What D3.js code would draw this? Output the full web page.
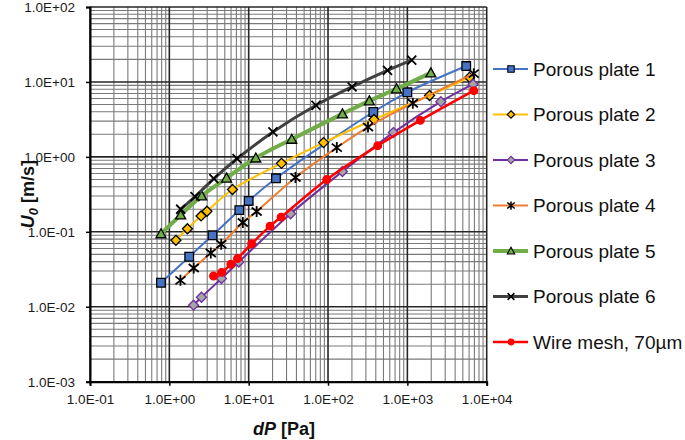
<!DOCTYPE html>
<html>
<head>
<meta charset="utf-8">
<script src="https://cdn.jsdelivr.net/npm/d3@7"></script>
<style>
  body { margin: 0; background: #fff; }
  svg { display: block; font-family: 'Liberation Sans', Arial, sans-serif; }
</style>
</head>
<body>
<script>
'use strict';

// series names, in drawing order
var seriesNames = ['Porous plate 1', 'Porous plate 2', 'Porous plate 3', 'Porous plate 4',
  'Porous plate 5', 'Porous plate 6', 'Wire mesh, 70\u00b5m'];

// dP [Pa] and U0 [m/s]
var plate1Dp = [0.785, 1.78, 3.50, 7.62, 10.0, 22.1, 372, 1000, 5520];
var plate1U = [0.0209, 0.0465, 0.0898, 0.195, 0.258, 0.518, 3.97, 7.27, 16.3];

var plate2Dp = [1.21, 1.69, 2.51, 2.98, 6.25, 25.9, 87.8, 380, 1905, 6080];
var plate2U = [0.077, 0.110, 0.163, 0.188, 0.367, 0.820, 1.55, 3.15, 6.59, 11.5];

var plate3Dp = [2.02, 2.54, 4.54, 7.49, 33.7, 152, 666, 2640, 6730];
var plate3U = [0.0105, 0.0134, 0.0238, 0.0395, 0.174, 0.638, 2.11, 5.45, 9.33];

var plate4Dp = [1.38, 2.03, 3.33, 4.51, 8.44, 12.6, 38.9, 129, 319, 1172, 6870];
var plate4U = [0.0225, 0.0329, 0.0521, 0.0683, 0.133, 0.187, 0.531, 1.33, 2.50, 5.19, 12.9];

var plate5Dp = [0.785, 1.39, 2.56, 5.26, 12.3, 34.9, 152, 332, 731, 1977];
var plate5U = [0.0943, 0.168, 0.302, 0.522, 0.966, 1.72, 3.75, 5.60, 8.10, 13.2];

var plate6Dp = [1.39, 2.11, 3.64, 7.13, 20.2, 70.6, 201, 562, 1136];
var plate6U = [0.200, 0.294, 0.514, 0.945, 2.15, 4.88, 8.61, 14.3, 19.6];

var meshDp = [3.60, 4.57, 5.96, 7.23, 10.9, 18.6, 25.6, 96.3, 423, 1458, 6870];
var meshU = [0.0257, 0.0288, 0.0369, 0.0440, 0.0693, 0.119, 0.157, 0.499, 1.41, 3.07, 7.64];

var xTickValues = [1e-1, 1e0, 1e1, 1e2, 1e3, 1e4];
var yTickValues = [1e-3, 1e-2, 1e-1, 1e0, 1e1, 1e2];

var allDp = [plate1Dp, plate2Dp, plate3Dp, plate4Dp, plate5Dp, plate6Dp, meshDp];
var allU = [plate1U, plate2U, plate3U, plate4U, plate5U, plate6U, meshU];

// look of each series (line colour, width, marker)
var styles = [
  {line: '#4472c4', width: 2, marker: 'square', fill: '#4472c4', stroke: '#000', size: 4.3},
  {line: '#ffc000', width: 2, marker: 'diamond', fill: '#ffc000', stroke: '#000', size: 5},
  {line: '#7030a0', width: 2, marker: 'diamond', fill: '#a5a5a5', stroke: '#7030a0', size: 5},
  {line: '#ed7d31', width: 2, marker: 'star', fill: 'none', stroke: '#000', size: 5},
  {line: '#70ad47', width: 4, marker: 'triangle', fill: '#70ad47', stroke: '#000', size: 5},
  {line: '#404040', width: 3, marker: 'x', fill: 'none', stroke: '#000', size: 4.5},
  {line: '#ff0000', width: 2.5, marker: 'circle', fill: '#ff0000', stroke: '#ff0000', size: 3.8}
];

var width = 685;
var height = 440;
var plot = {left: 90, right: 486.7, top: 7, bottom: 381.7};

var svg = d3.select('body').append('svg')
  .attr('width', width)
  .attr('height', height);

var x = d3.scaleLog().domain([1e-1, 1e4]).range([plot.left, plot.right]);
var y = d3.scaleLog().domain([1e-3, 1e2]).range([plot.bottom, plot.top]);

var fmt = function(v) {
  return v.toExponential(1).toUpperCase().replace(/E([+-])(\d)$/, 'E$10$2');
};

// grid: minor lines first then the decade lines
var minorX = [];
var minorY = [];
for (var d = -3; d < 4; d++) {
  for (var k = 2; k < 10; k++) {
    var v = k * Math.pow(10, d);
    if (v > 1e-1 && v < 1e4) minorX.push(v);
    if (v > 1e-3 && v < 1e2) minorY.push(v);
  }
}

var grid = svg.append('g').attr('class', 'grid');

grid.selectAll('line.minor-x')
  .data(minorX)
  .enter().append('line')
  .attr('class', 'minor-x')
  .attr('x1', function(d) { return x(d); })
  .attr('x2', function(d) { return x(d); })
  .attr('y1', plot.top)
  .attr('y2', plot.bottom)
  .attr('stroke', '#7a7a7a')
  .attr('stroke-width', 1.1);

grid.selectAll('line.minor-y')
  .data(minorY)
  .enter().append('line')
  .attr('class', 'minor-y')
  .attr('x1', plot.left)
  .attr('x2', plot.right)
  .attr('y1', function(d) { return y(d); })
  .attr('y2', function(d) { return y(d); })
  .attr('stroke', '#7a7a7a')
  .attr('stroke-width', 1.1);

grid.selectAll('line.major-x')
  .data(xTickValues)
  .enter().append('line')
  .attr('class', 'major-x')
  .attr('x1', function(d) { return x(d); })
  .attr('x2', function(d) { return x(d); })
  .attr('y1', plot.top)
  .attr('y2', plot.bottom)
  .attr('stroke', '#262626')
  .attr('stroke-width', 1.6);

grid.selectAll('line.major-y')
  .data(yTickValues)
  .enter().append('line')
  .attr('class', 'major-y')
  .attr('x1', plot.left)
  .attr('x2', plot.right)
  .attr('y1', function(d) { return y(d); })
  .attr('y2', function(d) { return y(d); })
  .attr('stroke', '#262626')
  .attr('stroke-width', 1.6);

// axes
var xAxis = svg.append('g')
  .attr('transform', 'translate(0,' + plot.bottom + ')')
  .call(d3.axisBottom(x).tickValues(xTickValues).tickFormat(fmt).tickSizeOuter(0).tickSize(4).tickPadding(9));

var yAxis = svg.append('g')
  .attr('transform', 'translate(' + plot.left + ',0)')
  .call(d3.axisLeft(y).tickValues(yTickValues).tickFormat(fmt).tickSizeOuter(0).tickSize(4).tickPadding(11));

[xAxis, yAxis].forEach(function(a) {
  a.select('.domain').attr('stroke', '#000').attr('stroke-width', 2);
  a.selectAll('.tick line').attr('stroke', '#000').attr('stroke-width', 1.5);
  a.selectAll('.tick text')
    .attr('fill', '#1a1a1a')
    .style('font-size', '13.5px')
    .style('font-family', "'Liberation Sans', Arial, sans-serif");
});

// marker shapes, s is half size
function markerPath(type, s) {
  if (type === 'square') return 'M' + -s + ',' + -s + 'H' + s + 'V' + s + 'H' + -s + 'Z';
  if (type === 'diamond') return 'M0,' + -s + 'L' + s + ',0L0,' + s + 'L' + -s + ',0Z';
  if (type === 'triangle') return 'M0,' + -s + 'L' + s + ',' + s * 0.8 + 'L' + -s + ',' + s * 0.8 + 'Z';
  if (type === 'circle') return 'M' + s + ',0A' + s + ',' + s + ' 0 1,1 ' + -s + ',0A' + s + ',' + s + ' 0 1,1 ' + s + ',0Z';
  if (type === 'x') return 'M' + -s + ',' + -s + 'L' + s + ',' + s + 'M' + -s + ',' + s + 'L' + s + ',' + -s;
  // star: x with a vertical bar
  return 'M' + -s + ',' + -s * 0.8 + 'L' + s + ',' + s * 0.8 + 'M' + -s + ',' + s * 0.8 + 'L' + s + ',' + -s * 0.8 + 'M0,' + -s * 1.1 + 'L0,' + s * 1.1;
}

function markerWidth(st) {
  return (st.marker === 'x' || st.marker === 'star') ? 1.8 : 1.3;
}

var line = d3.line()
  .x(function(d) { return x(d[0]); })
  .y(function(d) { return y(d[1]); })
  .curve(d3.curveCatmullRom.alpha(0.5));

var seriesG = svg.append('g').attr('class', 'series');

seriesNames.forEach(function(name, i) {
  var st = styles[i];
  var pts = d3.zip(allDp[i], allU[i]);
  var g = seriesG.append('g');

  g.append('path')
    .datum(pts)
    .attr('d', line)
    .attr('fill', 'none')
    .attr('stroke', st.line)
    .attr('stroke-width', st.width)
    .attr('stroke-linejoin', 'round');

  g.selectAll('path.marker')
    .data(pts)
    .enter().append('path')
    .attr('class', 'marker')
    .attr('transform', function(d) { return 'translate(' + x(d[0]) + ',' + y(d[1]) + ')'; })
    .attr('d', markerPath(st.marker, st.size))
    .attr('fill', st.fill)
    .attr('stroke', st.stroke)
    .attr('stroke-width', markerWidth(st));
});

// legend on the right
var legend = svg.append('g').attr('class', 'legend');
var legendTop = 69;
var legendStep = 45.5;

var item = legend.selectAll('g.item')
  .data(seriesNames)
  .enter().append('g')
  .attr('class', 'item')
  .attr('transform', function(d, i) { return 'translate(0,' + (legendTop + legendStep * i) + ')'; });

item.append('line')
  .attr('x1', 493)
  .attr('x2', 528)
  .attr('stroke', function(d, i) { return styles[i].line; })
  .attr('stroke-width', function(d, i) { return styles[i].width; });

item.append('path')
  .attr('transform', 'translate(511,0)')
  .attr('d', function(d, i) { return markerPath(styles[i].marker, styles[i].size * 0.75); })
  .attr('fill', function(d, i) { return styles[i].fill; })
  .attr('stroke', function(d, i) { return styles[i].stroke; })
  .attr('stroke-width', function(d, i) { return markerWidth(styles[i]) * 0.85; });

item.append('text')
  .attr('x', 533)
  .attr('dy', '0.35em')
  .style('font-size', '19px')
  .attr('fill', '#111')
  .text(function(d) { return d; });

// axis titles
var xTitle = svg.append('text')
  .attr('x', 284)
  .attr('y', 435)
  .attr('text-anchor', 'middle')
  .style('font-size', '18px')
  .style('font-weight', 'bold')
  .attr('fill', '#111');
xTitle.append('tspan').style('font-style', 'italic').text('dP');
xTitle.append('tspan').text(' [Pa]');

var yTitle = svg.append('text')
  .attr('transform', 'translate(34,194) rotate(-90)')
  .attr('text-anchor', 'middle')
  .style('font-size', '18px')
  .style('font-weight', 'bold')
  .attr('fill', '#111');
yTitle.append('tspan').style('font-style', 'italic').text('U');
yTitle.append('tspan').style('font-style', 'italic').style('font-size', '13px').attr('dy', 4).text('0');
yTitle.append('tspan').attr('dy', -4).text(' [m/s]');
</script>
</body>
</html>
